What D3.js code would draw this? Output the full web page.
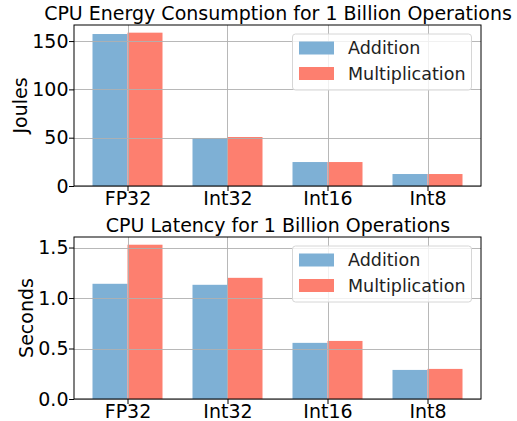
<!DOCTYPE html>
<html>
<head>
<meta charset="utf-8">
<script src="https://cdn.jsdelivr.net/npm/d3@7"></script>
<style>
  body { margin: 0; background: #fff; }
  svg { display: block; font-family: 'DejaVu Sans', sans-serif; }
</style>
</head>
<body>
<div id="chart"></div>
<script>
const categories = ['FP32', 'Int32', 'Int16', 'Int8'];
const seriesNames = ['Addition', 'Multiplication'];
const energyAdd = [157.3, 49.7, 24.8, 12.4];
const energyMul = [158.7, 50.7, 24.8, 12.4];
const latencyAdd = [1.141, 1.131, 0.556, 0.288];
const latencyMul = [1.528, 1.2, 0.575, 0.298];
const energyTicks = [0, 50, 100, 150];
const latencyTicks = [0, 0.5, 1.0, 1.5];

const width = 517;
const height = 421;
const colors = ['#7eb0d5', '#fd7f6f'];
const barWidth = 0.35;
const fontSize = 19;
const legendFontSize = 17.5;

const svg = d3.select('#chart').append('svg')
  .attr('width', width)
  .attr('height', height);

// x positions are category indexes, with matplotlib's 5% margin
const xScale = d3.scaleLinear()
  .domain([-barWidth - 0.185, categories.length - 1 + barWidth + 0.185])
  .range([74, 481]);

const drawPanel = (panel) => {
  const { top, bottom, title, ylabel, add, mul, ticks, fmt, labelX } = panel;
  const maxY = d3.max(add.concat(mul)) * 1.05;
  const yScale = d3.scaleLinear().domain([0, maxY]).range([bottom, top]);
  const [x0, x1] = xScale.range();
  const g = svg.append('g');

  // bars, one group per series
  [add, mul].forEach((values, s) => {
    g.selectAll(null)
      .data(values)
      .enter()
      .append('rect')
      .attr('x', (d, i) => xScale(i + (s === 0 ? -barWidth : 0)))
      .attr('y', d => yScale(d))
      .attr('width', xScale(barWidth) - xScale(0))
      .attr('height', d => bottom - yScale(d))
      .attr('fill', colors[s]);
  });

  // grid lines sit on top of the bars
  g.selectAll(null)
    .data(ticks)
    .enter()
    .append('line')
    .attr('x1', x0).attr('x2', x1)
    .attr('y1', d => Math.round(yScale(d)) + 0.5)
    .attr('y2', d => Math.round(yScale(d)) + 0.5)
    .attr('stroke', '#b0b0b0')
    .attr('stroke-width', 0.9);

  g.selectAll(null)
    .data(categories)
    .enter()
    .append('line')
    .attr('x1', (d, i) => Math.round(xScale(i)) + 0.5)
    .attr('x2', (d, i) => Math.round(xScale(i)) + 0.5)
    .attr('y1', top).attr('y2', bottom)
    .attr('stroke', '#b0b0b0')
    .attr('stroke-width', 0.9);

  // axes
  const yAxis = d3.axisLeft(yScale)
    .tickValues(ticks)
    .tickFormat(fmt)
    .tickSize(5)
    .tickPadding(0.5);
  g.append('g')
    .attr('transform', `translate(${x0},0)`)
    .call(yAxis)
    .call(a => a.select('.domain').remove())
    .selectAll('text')
    .attr('font-size', fontSize)
    .attr('font-family', 'DejaVu Sans')
    .attr('fill', '#000');

  const xAxis = d3.axisBottom(xScale)
    .tickValues(d3.range(categories.length))
    .tickFormat(i => categories[i])
    .tickSize(5)
    .tickPadding(1);
  g.append('g')
    .attr('transform', `translate(0,${bottom})`)
    .call(xAxis)
    .call(a => a.select('.domain').remove())
    .selectAll('text')
    .attr('font-size', fontSize)
    .attr('font-family', 'DejaVu Sans')
    .attr('fill', '#000');

  g.append('rect')
    .attr('x', x0).attr('y', top)
    .attr('width', x1 - x0).attr('height', bottom - top)
    .attr('fill', 'none')
    .attr('stroke', '#000')
    .attr('stroke-width', 1);

  // title and y label
  g.append('text')
    .attr('x', (x0 + x1) / 2 + 0.5)
    .attr('y', top - 5.5)
    .attr('text-anchor', 'middle')
    .attr('font-size', fontSize)
    .text(title);

  g.append('text')
    .attr('transform', `translate(${labelX},${(top + bottom) / 2}) rotate(-90)`)
    .attr('text-anchor', 'middle')
    .attr('font-size', fontSize)
    .text(ylabel);

  // legend
  const lx = 292.5;
  const ly = top + 9;
  const legend = g.append('g');
  legend.append('rect')
    .attr('x', lx).attr('y', ly)
    .attr('width', 179).attr('height', 56)
    .attr('rx', 3)
    .attr('fill', 'rgba(255,255,255,0.8)')
    .attr('stroke', '#d6d6d6');
  seriesNames.forEach((name, s) => {
    const cy = ly + 14 + s * 25.5;
    legend.append('rect')
      .attr('x', lx + 6.5).attr('y', cy - 6.5)
      .attr('width', 35).attr('height', 13)
      .attr('fill', colors[s]);
    legend.append('text')
      .attr('x', lx + 55.5).attr('y', cy)
      .attr('dy', '0.36em')
      .attr('font-size', legendFontSize)
      .attr('fill', '#222')
      .text(name);
  });
};

drawPanel({
  top: 25, bottom: 186,
  title: 'CPU Energy Consumption for 1 Billion Operations',
  ylabel: 'Joules', labelX: 27,
  add: energyAdd, mul: energyMul,
  ticks: energyTicks, fmt: d3.format('d'),
});

drawPanel({
  top: 237, bottom: 399,
  title: 'CPU Latency for 1 Billion Operations',
  ylabel: 'Seconds', labelX: 32.5,
  add: latencyAdd, mul: latencyMul,
  ticks: latencyTicks, fmt: d3.format('.1f'),
});
</script>
</body>
</html>
